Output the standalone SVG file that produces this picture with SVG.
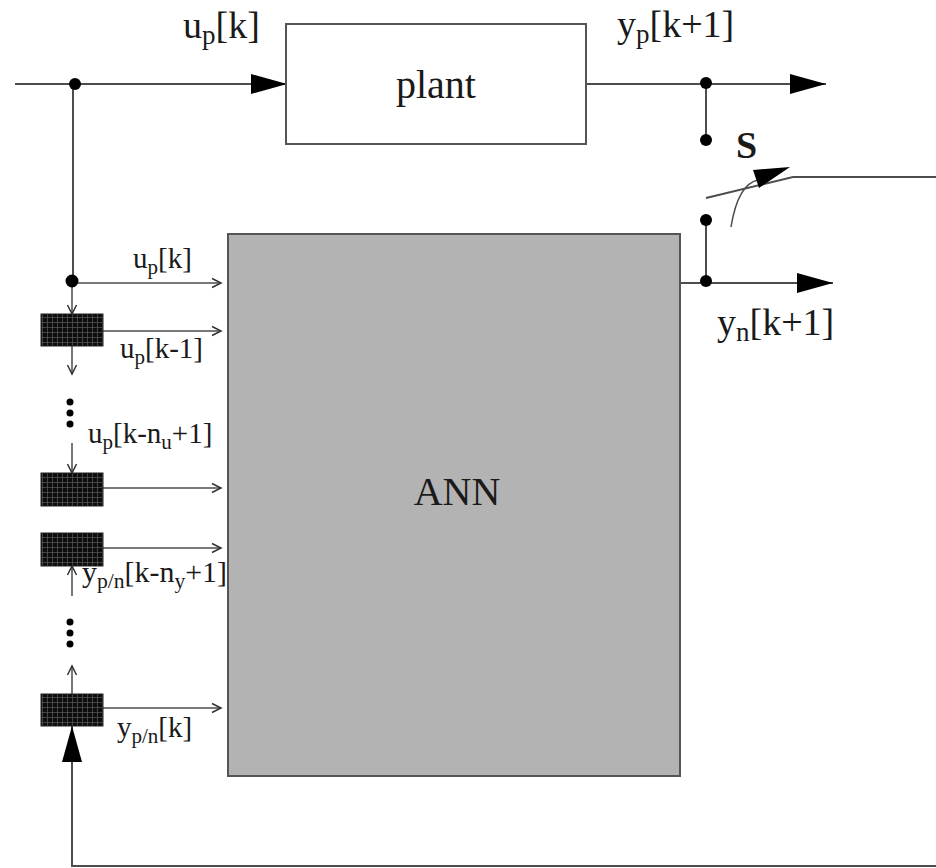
<svg xmlns="http://www.w3.org/2000/svg" width="936" height="868" viewBox="0 0 936 868">
<style>
.ln{stroke:#4d4d4d;stroke-width:2;fill:none}
.thin{stroke:#4d4d4d;stroke-width:1.5;fill:none}
.big{marker-end:url(#bigArrow)}
.sm{marker-end:url(#smArrow)}
.dot{fill:#000}
.lbl{font-family:"Liberation Serif","Times New Roman",serif;fill:#1a1a1a}
.big-t{font-size:38px}
.small-t{font-size:29px}
.delay{fill:url(#mesh);stroke:#222;stroke-width:1}
</style>
<defs>
<marker id="bigArrow" markerUnits="userSpaceOnUse" markerWidth="36" markerHeight="20" viewBox="0 0 36 20" refX="36" refY="10" orient="auto">
<path d="M0,0 L36,10 L0,20 z" fill="#000"/>
</marker>
<marker id="smArrow" markerUnits="userSpaceOnUse" markerWidth="12" markerHeight="12" viewBox="0 0 12 12" refX="10" refY="6" orient="auto">
<path d="M1,1.5 L10,6 L1,10.5" fill="none" stroke="#333" stroke-width="1.5"/>
</marker>
<pattern id="mesh" patternUnits="userSpaceOnUse" width="5" height="5">
<rect width="5" height="5" fill="#0d0d0d"/>
<path d="M2.5,0 V5 M0,2.5 H5" stroke="#5a5a5a" stroke-width="0.7"/>
</pattern>
</defs>

<g id="connectors">
<line class="ln big" x1="15" y1="84" x2="287" y2="84"/>
<line class="ln" x1="73" y1="84" x2="73" y2="282"/>
<line class="thin sm" x1="73" y1="283" x2="221" y2="283"/>
<line class="thin sm" x1="72" y1="283" x2="72" y2="314"/>
<line class="thin sm" x1="103" y1="331" x2="221" y2="331"/>
<line class="thin sm" x1="72" y1="346" x2="72" y2="374"/>
<line class="thin sm" x1="72" y1="443" x2="72" y2="473"/>
<line class="thin sm" x1="103" y1="488" x2="221" y2="488"/>
<line class="thin sm" x1="103" y1="548" x2="221" y2="548"/>
<line class="thin sm" x1="72" y1="596" x2="72" y2="566"/>
<line class="thin sm" x1="72" y1="694" x2="72" y2="666"/>
<line class="thin sm" x1="103" y1="708" x2="221" y2="708"/>
<polyline class="ln big" points="936,866 72,866 72,726"/>
<line class="ln big" x1="586" y1="84" x2="826" y2="84"/>
<line class="ln" x1="706" y1="84" x2="706" y2="140"/>
<line class="ln" x1="706" y1="220" x2="706" y2="283"/>
<line class="ln big" x1="680" y1="283" x2="833" y2="283"/>
<polyline class="ln" points="706,198 793,177 936,177"/>
<path class="thin" d="M731,227 Q738,184 758,180"/>
<polygon points="790,167 753,170 759,188" fill="#000"/>
<circle class="dot" cx="75" cy="84" r="6"/>
<circle class="dot" cx="72" cy="281" r="6.5"/>
<circle class="dot" cx="706" cy="83" r="6"/>
<circle class="dot" cx="706" cy="140" r="6"/>
<circle class="dot" cx="706" cy="220" r="6"/>
<circle class="dot" cx="706" cy="281" r="6"/>
<circle class="dot" cx="70" cy="402" r="3.5"/>
<circle class="dot" cx="70" cy="413" r="3.5"/>
<circle class="dot" cx="70" cy="424" r="3.5"/>
<circle class="dot" cx="70" cy="622" r="3.5"/>
<circle class="dot" cx="70" cy="633" r="3.5"/>
<circle class="dot" cx="70" cy="644" r="3.5"/>
</g>

<g id="plant">
<rect x="286" y="24" width="300" height="120" fill="#fff" stroke="#555" stroke-width="2"/>
<text class="lbl" x="436" y="98" font-size="40" text-anchor="middle">plant</text>
</g>

<g id="ann">
<rect x="228" y="234" width="452" height="542" fill="#b3b3b3" stroke="#555" stroke-width="2"/>
<text class="lbl" x="457" y="505" font-size="40" text-anchor="middle">ANN</text>
</g>

<g id="delay1"><rect class="delay" x="41" y="314" width="62" height="32"/></g>
<g id="delay2"><rect class="delay" x="41" y="473" width="62" height="33"/></g>
<g id="delay3"><rect class="delay" x="41" y="533" width="62" height="33"/></g>
<g id="delay4"><rect class="delay" x="41" y="694" width="62" height="32"/></g>

<g id="switch-label">
<text class="lbl" x="736" y="158" font-size="38" font-weight="bold">S</text>
</g>

<g id="labels">
<text class="lbl big-t" x="183" y="38">u<tspan font-size="27" dy="6">p</tspan><tspan dy="-6">[k]</tspan></text>
<text class="lbl big-t" x="617" y="37">y<tspan font-size="27" dy="6">p</tspan><tspan dy="-6">[k+1]</tspan></text>
<text class="lbl big-t" x="717" y="335">y<tspan font-size="27" dy="6">n</tspan><tspan dy="-6">[k+1]</tspan></text>
<text class="lbl small-t" x="133" y="268">u<tspan font-size="21" dy="6">p</tspan><tspan dy="-6">[k]</tspan></text>
<text class="lbl small-t" x="120" y="358">u<tspan font-size="21" dy="6">p</tspan><tspan dy="-6">[k-1]</tspan></text>
<text class="lbl small-t" x="88" y="443">u<tspan font-size="21" dy="6">p</tspan><tspan dy="-6">[k-n</tspan><tspan font-size="21" dy="6">u</tspan><tspan dy="-6">+1]</tspan></text>
<text class="lbl small-t" x="82" y="582" textLength="145" lengthAdjust="spacingAndGlyphs">y<tspan font-size="21" dy="6">p/n</tspan><tspan dy="-6">[k-n</tspan><tspan font-size="21" dy="6">y</tspan><tspan dy="-6">+1]</tspan></text>
<text class="lbl small-t" x="117" y="737">y<tspan font-size="21" dy="6">p/n</tspan><tspan dy="-6">[k]</tspan></text>
</g>
</svg>
